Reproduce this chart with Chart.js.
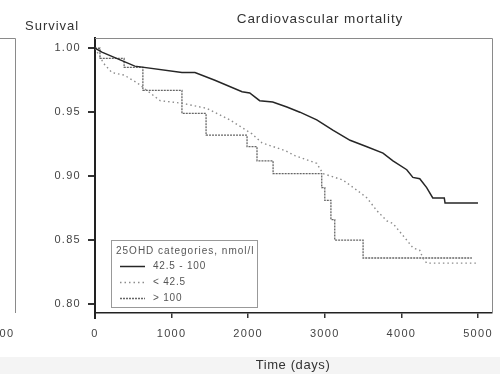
<!DOCTYPE html>
<html>
<head>
<meta charset="utf-8">
<script src="https://cdn.jsdelivr.net/npm/chart.js@4.4.0/dist/chart.umd.min.js"></script>
<style>
  html, body { margin: 0; padding: 0; background: #fff; }
  #wrap { width: 500px; height: 374px; }
</style>
</head>
<body>
<div id="wrap"><canvas id="km-chart" width="500" height="374"></canvas></div>
<script>
// Dati (giorni / sopravvivenza)
var midDays  = [0, 90, 520, 1135, 1305, 1565, 1920, 2020, 2150, 2320, 2505, 2675, 2895, 3105, 3330, 3550, 3760, 3890, 4070, 4150, 4240, 4330, 4410, 4560, 4570, 5000];
var midSurv  = [1.000, 0.997, 0.986, 0.981, 0.981, 0.975, 0.966, 0.965, 0.959, 0.958, 0.954, 0.950, 0.944, 0.936, 0.928, 0.923, 0.918, 0.912, 0.905, 0.899, 0.898, 0.891, 0.883, 0.883, 0.879, 0.879];

var lowDays  = [0, 115, 220, 380, 550, 850, 1135, 1460, 1760, 2050, 2180, 2480, 2610, 2895, 2975, 3235, 3420, 3550, 3680, 3810, 3890, 4070, 4150, 4240, 4280, 4330, 5000];
var lowSurv  = [1.000, 0.988, 0.981, 0.979, 0.973, 0.959, 0.957, 0.953, 0.944, 0.933, 0.926, 0.920, 0.916, 0.910, 0.902, 0.897, 0.889, 0.883, 0.873, 0.865, 0.863, 0.850, 0.844, 0.842, 0.836, 0.832, 0.832];

var highDays = [0, 65, 380, 625, 1135, 1450, 1985, 2115, 2325, 2960, 3000, 3080, 3130, 3500, 4920];
var highSurv = [1.000, 0.992, 0.985, 0.967, 0.949, 0.932, 0.923, 0.912, 0.902, 0.891, 0.881, 0.866, 0.850, 0.836, 0.836];

var seriesLabels = ['42.5 - 100', '< 42.5', '> 100'];
var xTicks = [0, 1000, 2000, 3000, 4000, 5000];
var yTicks = [0.80, 0.85, 0.90, 0.95, 1.00];

var FONT = '"Liberation Sans", Arial, sans-serif';

function toPoints(days, surv) {
    return days.map(function (d, i) { return { x: d, y: surv[i] }; });
}

// Titolo, etichette, legenda e frammento del pannello a sinistra
var extras = {
    id: 'extras',
    beforeDraw: function (chart) {
        var ctx = chart.ctx;
        ctx.save();
        ctx.fillStyle = '#f4f4f4';
        ctx.fillRect(0, 357, 500, 17);
        ctx.restore();
        // spaziatura larga come nell'originale (vale anche per i tick)
        ctx.letterSpacing = '1.3px';
    },
    afterDraw: function (chart) {
        var ctx = chart.ctx;
        var a = chart.chartArea;
        ctx.save();

        // cornice
        ctx.strokeStyle = '#8a8a8a';
        ctx.lineWidth = 1;
        ctx.beginPath();
        ctx.moveTo(a.left, a.top + 0.5);
        ctx.lineTo(a.right + 0.5, a.top + 0.5);
        ctx.lineTo(a.right + 0.5, a.bottom);
        ctx.stroke();

        // asse y prolungato sotto l'asse x
        ctx.strokeStyle = '#222';
        ctx.lineWidth = 2;
        ctx.beginPath();
        ctx.moveTo(a.left, a.bottom);
        ctx.lineTo(a.left, a.bottom + 6);
        ctx.stroke();

        // pannello precedente (tagliato)
        ctx.strokeStyle = '#8a8a8a';
        ctx.lineWidth = 1;
        ctx.beginPath();
        ctx.moveTo(0, a.top + 0.5);
        ctx.lineTo(15.5, a.top + 0.5);
        ctx.lineTo(15.5, a.bottom);
        ctx.stroke();
        ctx.fillStyle = '#444';
        ctx.font = '11px ' + FONT;
        ctx.letterSpacing = '1.3px';
        ctx.textAlign = 'center';
        ctx.textBaseline = 'middle';
        ctx.fillText('00', 7, 334);

        // testi
        ctx.fillStyle = '#333';
        ctx.font = '13.5px ' + FONT;
        ctx.letterSpacing = '0.9px';
        ctx.fillText('Cardiovascular mortality', 320, 19);
        ctx.font = '13px ' + FONT;
        ctx.letterSpacing = '0.6px';
        ctx.fillText('Time (days)', 293, 365);
        ctx.textAlign = 'left';
        ctx.letterSpacing = '1px';
        ctx.fillText('Survival', 25, 26);

        // legenda
        var lx = 111, ly = 240, lw = 146, lh = 67;
        ctx.fillStyle = '#fff';
        ctx.fillRect(lx, ly, lw, lh);
        ctx.save();
        ctx.beginPath();
        ctx.rect(lx, ly, lw, lh);
        ctx.clip();
        ctx.fillStyle = '#555';
        ctx.font = '10px ' + FONT;
        ctx.letterSpacing = '1px';
        ctx.fillText('25OHD categories, nmol/l', 116, 251);
        ctx.restore();
        ctx.strokeStyle = '#999';
        ctx.lineWidth = 1;
        ctx.strokeRect(lx + 0.5, ly + 0.5, lw, lh);
        var rows = [266, 282, 298];
        ctx.font = '10px ' + FONT;
        ctx.letterSpacing = '0.8px';
        chart.data.datasets.forEach(function (ds, i) {
            ctx.strokeStyle = ds.borderColor;
            ctx.lineWidth = ds.borderWidth;
            ctx.setLineDash(ds.borderDash || []);
            ctx.beginPath();
            ctx.moveTo(120, rows[i] + 0.5);
            ctx.lineTo(145, rows[i] + 0.5);
            ctx.stroke();
            ctx.setLineDash([]);
            ctx.fillStyle = '#555';
            ctx.fillText(ds.label, 153, rows[i]);
        });
        ctx.restore();
    }
};

var ctx = document.getElementById('km-chart');
var chart = new Chart(ctx, {
    type: 'line',
    data: {
        datasets: [{
            label: seriesLabels[0],
            data: toPoints(midDays, midSurv),
            borderColor: '#262626',
            borderWidth: 1.5,
            pointRadius: 0,
            tension: 0
        }, {
            label: seriesLabels[1],
            data: toPoints(lowDays, lowSurv),
            borderColor: '#8c8c8c',
            borderWidth: 1.4,
            borderDash: [1.5, 3],
            pointRadius: 0,
            tension: 0
        }, {
            label: seriesLabels[2],
            data: toPoints(highDays, highSurv),
            borderColor: '#666',
            borderWidth: 1.3,
            borderDash: [2, 1],
            stepped: 'before',
            pointRadius: 0,
            tension: 0
        }]
    },
    options: {
        responsive: false,
        animation: false,
        layout: { padding: { left: 0, top: 38, right: 8, bottom: 0 } },
        plugins: {
            legend: { display: false },
            title: { display: false },
            tooltip: { enabled: false }
        },
        scales: {
            x: {
                type: 'linear',
                min: 0,
                max: 5183,
                afterBuildTicks: function (scale) {
                    scale.ticks = xTicks.map(function (v) { return { value: v }; });
                },
                afterFit: function (scale) { scale.height = 61; },
                border: { display: true, color: '#222', width: 1.5 },
                grid: { drawOnChartArea: false, drawTicks: true, tickLength: 5, color: '#333', lineWidth: 1.5 },
                ticks: {
                    color: '#444',
                    padding: 9,
                    maxRotation: 0,
                    font: { family: FONT, size: 11 },
                    callback: function (v) { return String(v); }
                }
            },
            y: {
                min: 0.793,
                max: 1.008,
                afterBuildTicks: function (scale) {
                    scale.ticks = yTicks.map(function (v) { return { value: v }; });
                },
                afterFit: function (scale) { scale.width = 95; },
                border: { display: true, color: '#222', width: 2 },
                grid: { drawOnChartArea: false, drawTicks: true, tickLength: 7, color: '#333', lineWidth: 2 },
                ticks: {
                    color: '#444',
                    padding: 7,
                    font: { family: FONT, size: 11 },
                    callback: function (v) { return v.toFixed(2); }
                }
            }
        }
    },
    plugins: [extras]
});
</script>
</body>
</html>
